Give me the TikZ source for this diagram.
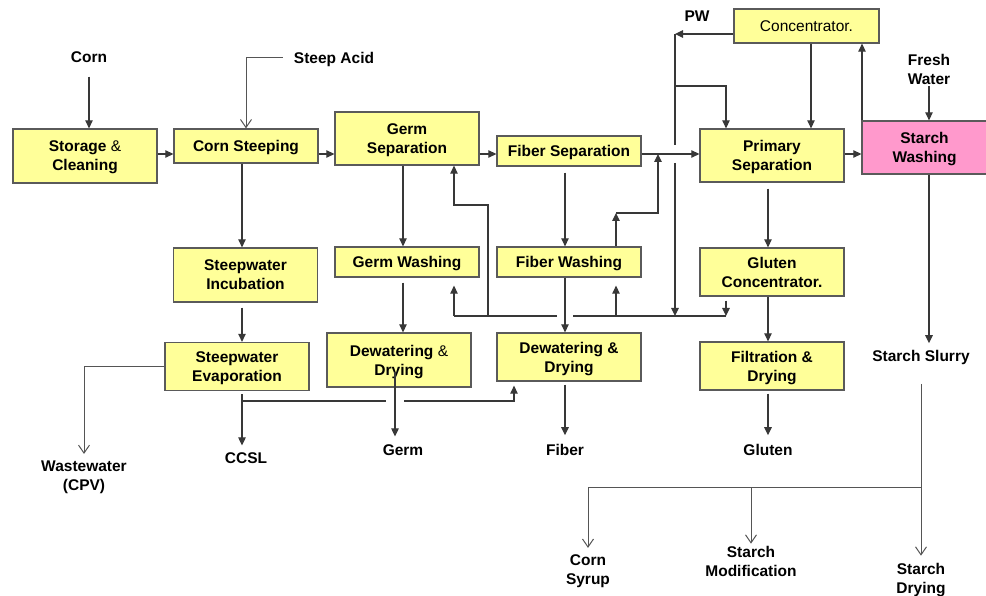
\documentclass[tikz,border=0pt]{standalone}
\usepackage{fontspec}
\setmainfont{Liberation Sans}
\usetikzlibrary{arrows.meta}

\definecolor{boxfill}{HTML}{FFFF99}
\definecolor{boxline}{HTML}{5A5A5A}
\definecolor{washpink}{HTML}{FF99CC}
\definecolor{flowgray}{HTML}{383838}
\definecolor{thingray}{HTML}{555555}

\tikzset{
  proc/.style={draw=boxline, line width=1.3pt, fill=boxfill, minimum width=144,
    align=center, inner sep=2pt, text depth=0pt, font=\fontsize{15.5}{19}\selectfont\bfseries},
  lbl/.style={align=center, inner sep=2pt, text depth=0pt, font=\fontsize{15.5}{19}\selectfont\bfseries},
  flowline/.style={draw=flowgray, line width=1.2pt},
  flow/.style={flowline, -{Triangle[length=8pt,width=7.5pt]}},
  openflow/.style={draw=thingray, line width=1pt, -{Straight Barb[length=8pt,width=11pt]}},
}

\begin{document}
\begin{tikzpicture}[x=1pt, y=-1pt]
\useasboundingbox (0,0) rectangle (986,596);

%%% process boxes
\node[proc, minimum height=54] (store) at (85,156) {Storage \textmd{\&}\\Cleaning};
\node[proc, minimum height=34] (steep) at (246,146) {Corn Steeping};
\node[proc, minimum height=53] (germsep) at (407,138.5) {Germ\\Separation};
\node[proc, minimum height=30] (fibsep) at (569,151) {Fiber Separation};
\node[proc, minimum height=53] (primsep) at (772,155.5) {Primary\\Separation};
\node[proc, fill=washpink, minimum width=125, minimum height=53] (starchwash) at (924.5,147.5) {Starch\\Washing};
\node[proc, minimum width=145, minimum height=34, font=\fontsize{15.5}{19}\selectfont] (conc) at (806.5,26) {Concentrator.};

\node[proc, minimum height=54] (incub) at (245.5,275) {Steepwater\\Incubation};
\node[proc, minimum height=30] (germwash) at (407,262) {Germ Washing};
\node[proc, minimum height=30] (fibwash) at (569,262) {Fiber Washing};
\node[proc, minimum height=48] (glutconc) at (772,272) {Gluten\\Concentrator.};

\node[proc, minimum height=48] (evap) at (237,366.5) {Steepwater\\Evaporation};
\node[proc, minimum height=54] (ddgerm) at (399,360) {Dewatering \textmd{\&}\\Drying};
\node[proc, minimum height=48] (ddfib) at (569,357) {Dewatering \&\\Drying};
\node[proc, minimum height=48] (filt) at (772,366) {Filtration \&\\Drying};

%%% inputs and products
\node[lbl] (corn) at (89,57) {Corn};
\node[lbl] (sacid) at (334,58) {Steep Acid};
\node[lbl] (pw) at (697,16) {PW};
\node[lbl] (fresh) at (929,69) {Fresh\\Water};
\node[lbl] (waste) at (84,476) {Wastewater\\(CPV)};
\node[lbl] (ccsl) at (246,458) {CCSL};
\node[lbl] (germ) at (403,450) {Germ};
\node[lbl] (fiber) at (565,450) {Fiber};
\node[lbl] (gluten) at (768,450) {Gluten};
\node[lbl] (slurry) at (921,356) {Starch Slurry};
\node[lbl] (syrup) at (588,570) {Corn\\Syrup};
\node[lbl] (smod) at (751,561) {Starch\\Modification};
\node[lbl] (sdry) at (921,578) {Starch\\Drying};

%%% main line
\coordinate (mainline) at (0,154);
\draw[flow, shorten <=12pt] (corn.south) -- (store.north -| corn.south);
\draw[openflow] ([xshift=-9pt]sacid.west) -| (steep.north);
\draw[flow] (store.east |- mainline) -- (steep.west |- mainline);
\draw[flow] (steep.east |- mainline) -- (germsep.west |- mainline);
\draw[flow] (germsep.east |- mainline) -- (fibsep.west |- mainline);
\draw[flow] (fibsep.east |- mainline) -- (primsep.west |- mainline);
\draw[flow] (primsep.east |- mainline) -- (starchwash.west |- mainline);

%%% steepwater
\draw[flow] (steep.south -| 242,0) -- (incub.north -| 242,0);
\draw[flow, shorten <=5pt] (incub.south -| 242,0) -- (evap.north -| 242,0);
\draw[flow, shorten <=3pt, shorten >=5pt] (evap.south -| 242,0) -- (ccsl.north -| 242,0);
\draw[openflow, shorten >=5pt] (evap.west) -| (waste.north);
\draw[flowline] (242,401) -- (386,401);
\draw[flow, shorten >=4pt] (404,401) -| (ddfib.south -| 514,0);

%%% germ
\draw[flow] (germsep.south -| 403,0) -- (germwash.north -| 403,0);
\draw[flow, shorten <=5pt] (germwash.south -| 403,0) -- (ddgerm.north -| 403,0);
\draw[flow, shorten >=6pt] (395,372) -- (germ.north -| 395,0);

%%% fiber
\draw[flow, shorten <=6pt] (fibsep.south -| 565,0) -- (fibwash.north -| 565,0);
\draw[flow] (fibwash.south -| 565,0) -- (ddfib.north -| 565,0);
\draw[flow, shorten <=3pt, shorten >=7pt] (ddfib.south -| 565,0) -- (fiber.north -| 565,0);
\draw[flow] (fibwash.north -| 616,0) -- (616,213);
\draw[flow] (616,213) -| (658,154);

%%% gluten
\draw[flow, shorten <=6pt] (primsep.south -| 768,0) -- (glutconc.north -| 768,0);
\draw[flow] (glutconc.south -| 768,0) -- (filt.north -| 768,0);
\draw[flow, shorten <=3pt, shorten >=7pt] (filt.south -| 768,0) -- (gluten.north -| 768,0);

%%% process water
\coordinate (pwturn) at (675,34);
\draw[flow] (conc.west |- pwturn) -- (pwturn);
\draw[flowline] (pwturn) -- (675,145);
\draw[flow] (675,163) -- (675,316);
\draw[flow] (675,86) -| (primsep.north -| 726,0);
\draw[flow] (conc.south -| 811,0) -- (primsep.north -| 811,0);
\draw[flow] (starchwash.north -| 862,0) -- (conc.south -| 862,0);
\draw[flow] (fresh.south) -- (starchwash.north -| fresh.south);

% return to washing
\draw[flow, shorten <=4pt] (glutconc.south -| 726,0) -- (726,316);
\draw[flowline] (726,316) -- (573,316);
\draw[flowline] (557,316) -- (454,316);
\draw[flow, shorten >=8pt] (454,316) -- (germwash.south -| 454,0);
\draw[flow, shorten >=8pt] (616,316) -- (fibwash.south -| 616,0);
\draw[flow] (488,316) |- (454,205) -- (germsep.south -| 454,0);

%%% starch
\coordinate (split) at (921,487);
\draw[flow, shorten >=5pt] (starchwash.south -| 929,0) -- (slurry.north -| 929,0);
\draw[openflow, shorten <=20pt, shorten >=5pt] (slurry.south) -- (sdry.north);
\draw[openflow, shorten >=5pt] (split) -| (syrup.north);
\draw[openflow] (smod.north |- split) -- (smod.north);

\end{tikzpicture}
\end{document}
